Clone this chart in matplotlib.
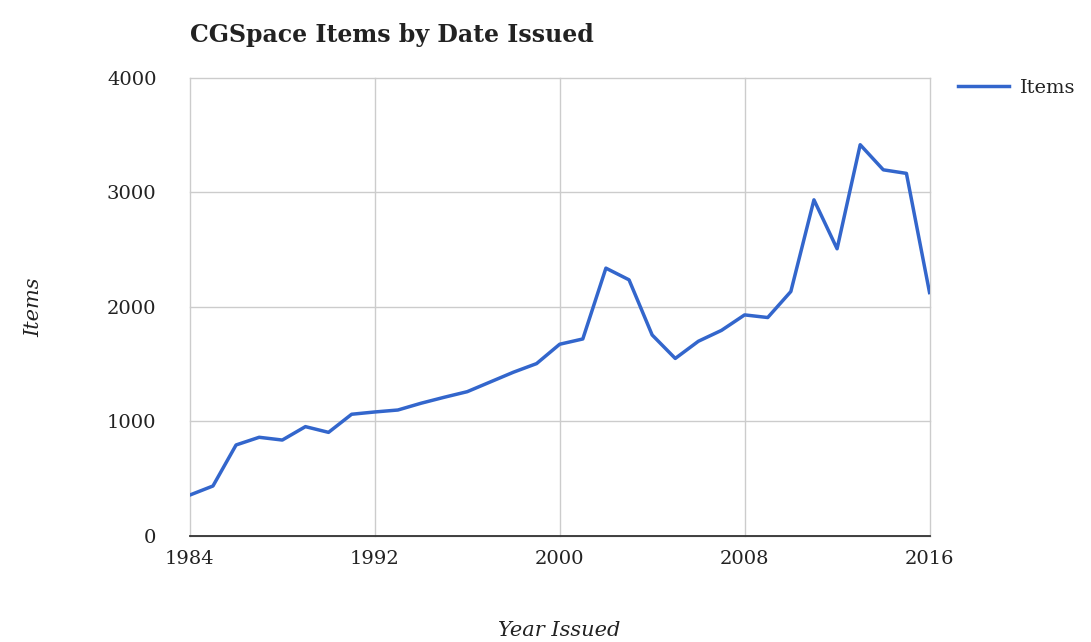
import matplotlib
matplotlib.use("Agg")
import matplotlib.pyplot as plt

years = list(range(1984, 2017))
items = [
    358, 437, 795, 862, 838, 955, 905, 1063, 1083, 1100,
    1159, 1211, 1260, 1345, 1430, 1505, 1674, 1720, 2338, 2236,
    1755, 1550, 1700, 1795, 1930, 1907, 2134, 2934, 2507, 3415,
    3196, 3165, 2125,
]
x_ticks = [1984, 1992, 2000, 2008, 2016]
y_ticks = [0, 1000, 2000, 3000, 4000]

LINE_COLOR = "#3366cc"
TEXT_COLOR = "#222222"

fig = plt.figure(figsize=(10.91, 6.42), dpi=100)
ax = fig.add_axes([0.174, 0.165, 0.678, 0.714])

ax.plot(years, items, color=LINE_COLOR, lw=2.5, label="Items",
        solid_joinstyle="round", zorder=3)

ax.set_xlim(1984, 2016)
ax.set_ylim(0, 4000)
ax.set_xticks(x_ticks)
ax.set_yticks(y_ticks)
ax.grid(True, color="#cccccc", lw=1.0)
for gl in ax.get_xgridlines() + ax.get_ygridlines():
    gl.set_clip_on(False)
ax.set_axisbelow(True)
for side in ("top", "right", "left"):
    ax.spines[side].set_visible(False)
ax.spines["bottom"].set_color("#333333")
ax.spines["bottom"].set_linewidth(1.3)
ax.spines["bottom"].set_zorder(2.5)
ax.tick_params(length=0, labelsize=14, labelcolor=TEXT_COLOR, pad=10)
ax.tick_params(axis="y", pad=24)
for lab in ax.get_xticklabels() + ax.get_yticklabels():
    lab.set_family("DejaVu Serif")

ax.set_xlabel("Year Issued", family="DejaVu Serif", style="italic",
              fontsize=15, color=TEXT_COLOR, labelpad=38)
ax.set_ylabel("Items", family="DejaVu Serif", style="italic",
              fontsize=15, color=TEXT_COLOR, labelpad=46)

fig.text(0.174, 0.945, "CGSpace Items by Date Issued", family="DejaVu Serif",
         fontweight="bold", fontsize=17, color=TEXT_COLOR, va="center", ha="left")

leg = ax.legend(loc="upper left", bbox_to_anchor=(1.015, 1.035), frameon=False,
                handlelength=2.6, handletextpad=0.6,
                prop={"family": "DejaVu Serif", "size": 14})
for t in leg.get_texts():
    t.set_color(TEXT_COLOR)

fig.savefig("out.png", dpi=100)
